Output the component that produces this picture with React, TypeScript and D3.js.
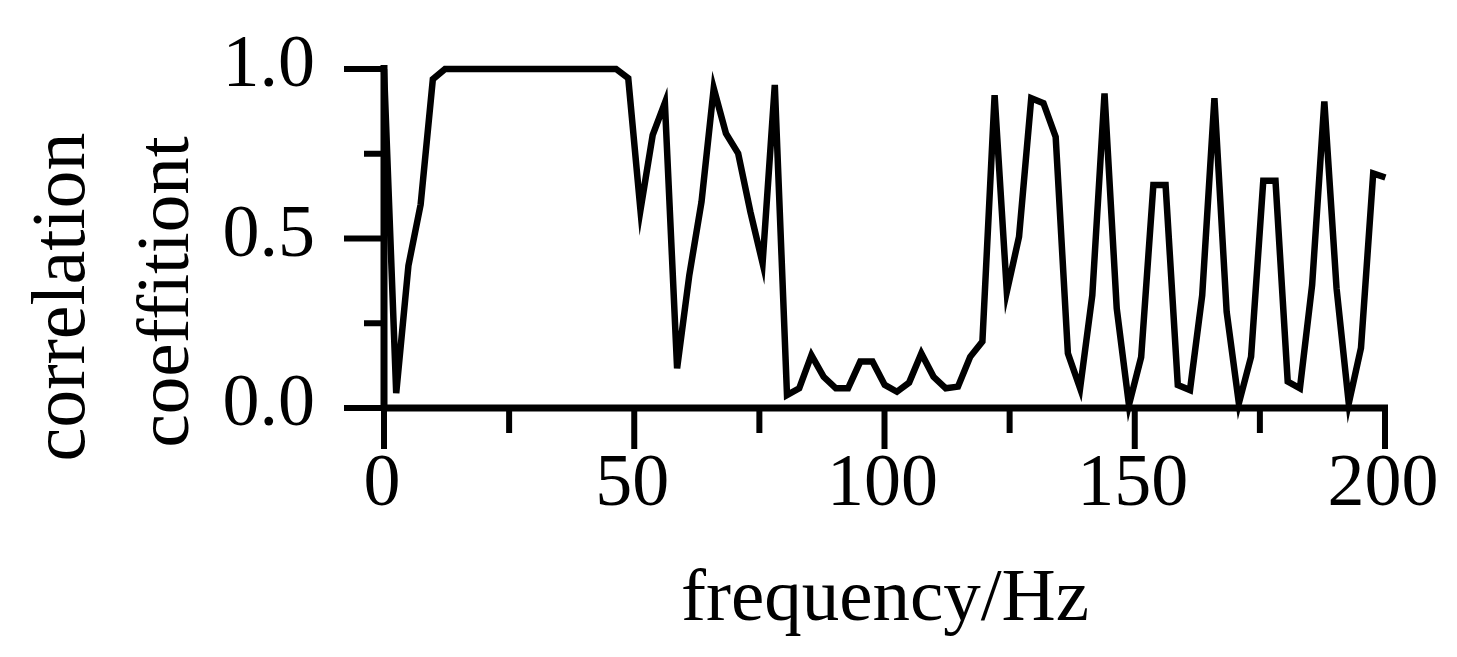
import React from "react";
import * as d3 from "d3";

const frequency: number[] = [
  0, 2.44, 4.88, 7.32, 9.76, 12.2, 14.64, 17.08, 19.52, 21.96,
  24.4, 26.84, 29.28, 31.72, 34.16, 36.6, 39.04, 41.48, 43.92, 46.36,
  48.8, 51.24, 53.68, 56.12, 58.56, 61, 63.44, 65.88, 68.32, 70.76,
  73.2, 75.64, 78.08, 80.52, 82.96, 85.4, 87.84, 90.28, 92.72, 95.16,
  97.6, 100.04, 102.48, 104.92, 107.36, 109.8, 112.24, 114.68, 117.12, 119.56,
  122, 124.44, 126.88, 129.32, 131.76, 134.2, 136.64, 139.08, 141.52, 143.96,
  146.4, 148.84, 151.28, 153.72, 156.16, 158.6, 161.04, 163.48, 165.92, 168.36,
  170.8, 173.24, 175.68, 178.12, 180.56, 183, 185.44, 187.88, 190.32, 192.76,
  195.2, 197.64, 200.08,
];

const correlation: number[] = [
  1.0, 0.044, 0.42, 0.6, 0.97, 1.0, 1.0, 1.0, 1.0, 1.0,
  1.0, 1.0, 1.0, 1.0, 1.0, 1.0, 1.0, 1.0, 1.0, 1.0,
  0.973, 0.584, 0.805, 0.9, 0.117, 0.392, 0.608, 0.943, 0.81, 0.751,
  0.579, 0.427, 0.953, 0.038, 0.058, 0.156, 0.092, 0.058, 0.058, 0.137,
  0.137, 0.068, 0.048, 0.075, 0.161, 0.092, 0.058, 0.063, 0.151, 0.196,
  0.923, 0.343, 0.505, 0.914, 0.899, 0.8, 0.161, 0.058, 0.333, 0.928,
  0.294, 0.009, 0.15, 0.658, 0.658, 0.068, 0.053, 0.333, 0.914, 0.284,
  0.014, 0.151, 0.67, 0.67, 0.078, 0.058, 0.363, 0.904, 0.353, 0.014,
  0.177, 0.692, 0.68,
];

const xTicks: number[] = [0, 25, 50, 75, 100, 125, 150, 175, 200];
const xTickLabels: number[] = [0, 50, 100, 150, 200];
const yTicks: number[] = [0, 0.25, 0.5, 0.75, 1.0];
const yTickLabels: string[] = ["0.0", "0.5", "1.0"];
const yLabelValues: number[] = [0, 0.5, 1.0];

const W = 1457;
const H = 657;
const FONT = "'Liberation Serif', 'Times New Roman', serif";

export default function App() {
  const x = d3.scaleLinear().domain([0, 200]).range([384, 1385]);
  const y = d3.scaleLinear().domain([0, 1]).range([408, 69]);

  const pts: [number, number][] = frequency.map((f, i) => [f, correlation[i]]);
  const line = d3
    .line<[number, number]>()
    .x((d) => x(d[0]))
    .y((d) => y(d[1]));

  return (
    <svg
      width={W}
      height={H}
      style={{ position: "absolute", left: 0, top: 0, display: "block", background: "#fff" }}
    >
      <rect x={0} y={0} width={W} height={H} fill="#fff" />
      {/* data line */}
      <path
        d={line(pts) || ""}
        fill="none"
        stroke="#000"
        strokeWidth={6.5}
        strokeLinejoin="miter"
        strokeMiterlimit={10}
      />
      {/* y axis */}
      <line x1={x(0)} x2={x(0)} y1={y(1) - 4} y2={y(0)} stroke="#000" strokeWidth={7} />
      {yTicks.map((t) => {
        const major = yLabelValues.includes(t);
        return (
          <line
            key={"yt" + t}
            x1={x(0) - (major ? 40 : 20)}
            x2={x(0)}
            y1={y(t)}
            y2={y(t)}
            stroke="#000"
            strokeWidth={6}
          />
        );
      })}
      {yLabelValues.map((t, i) => (
        <text
          key={"yl" + t}
          x={315}
          y={y(t) + 17}
          textAnchor="end"
          fontFamily={FONT}
          fontSize={74}
          fill="#000"
        >
          {yTickLabels[i]}
        </text>
      ))}
      {/* x axis */}
      <line x1={x(0) - 3} x2={x(200) + 3} y1={y(0)} y2={y(0)} stroke="#000" strokeWidth={7} />
      {xTicks.map((t) => {
        const major = xTickLabels.includes(t);
        return (
          <line
            key={"xt" + t}
            x1={x(t)}
            x2={x(t)}
            y1={y(0)}
            y2={y(0) + (major ? 41 : 25)}
            stroke="#000"
            strokeWidth={6}
          />
        );
      })}
      {xTickLabels.map((t) => (
        <text
          key={"xl" + t}
          x={x(t) - 2}
          y={y(0) + 97}
          textAnchor="middle"
          fontFamily={FONT}
          fontSize={74}
          fill="#000"
        >
          {t}
        </text>
      ))}
      {/* axis titles */}
      <text
        x={885}
        y={620}
        textAnchor="middle"
        fontFamily={FONT}
        fontSize={75}
        fill="#000"
      >
        frequency/Hz
      </text>
      <text
        transform={`translate(84,297) rotate(-90)`}
        textAnchor="middle"
        fontFamily={FONT}
        fontSize={76}
        fill="#000"
      >
        correlation
      </text>
      <text
        transform={`translate(188,292) rotate(-90)`}
        textAnchor="middle"
        fontFamily={FONT}
        fontSize={75}
        fill="#000"
      >
        coeffitiont
      </text>
    </svg>
  );
}
